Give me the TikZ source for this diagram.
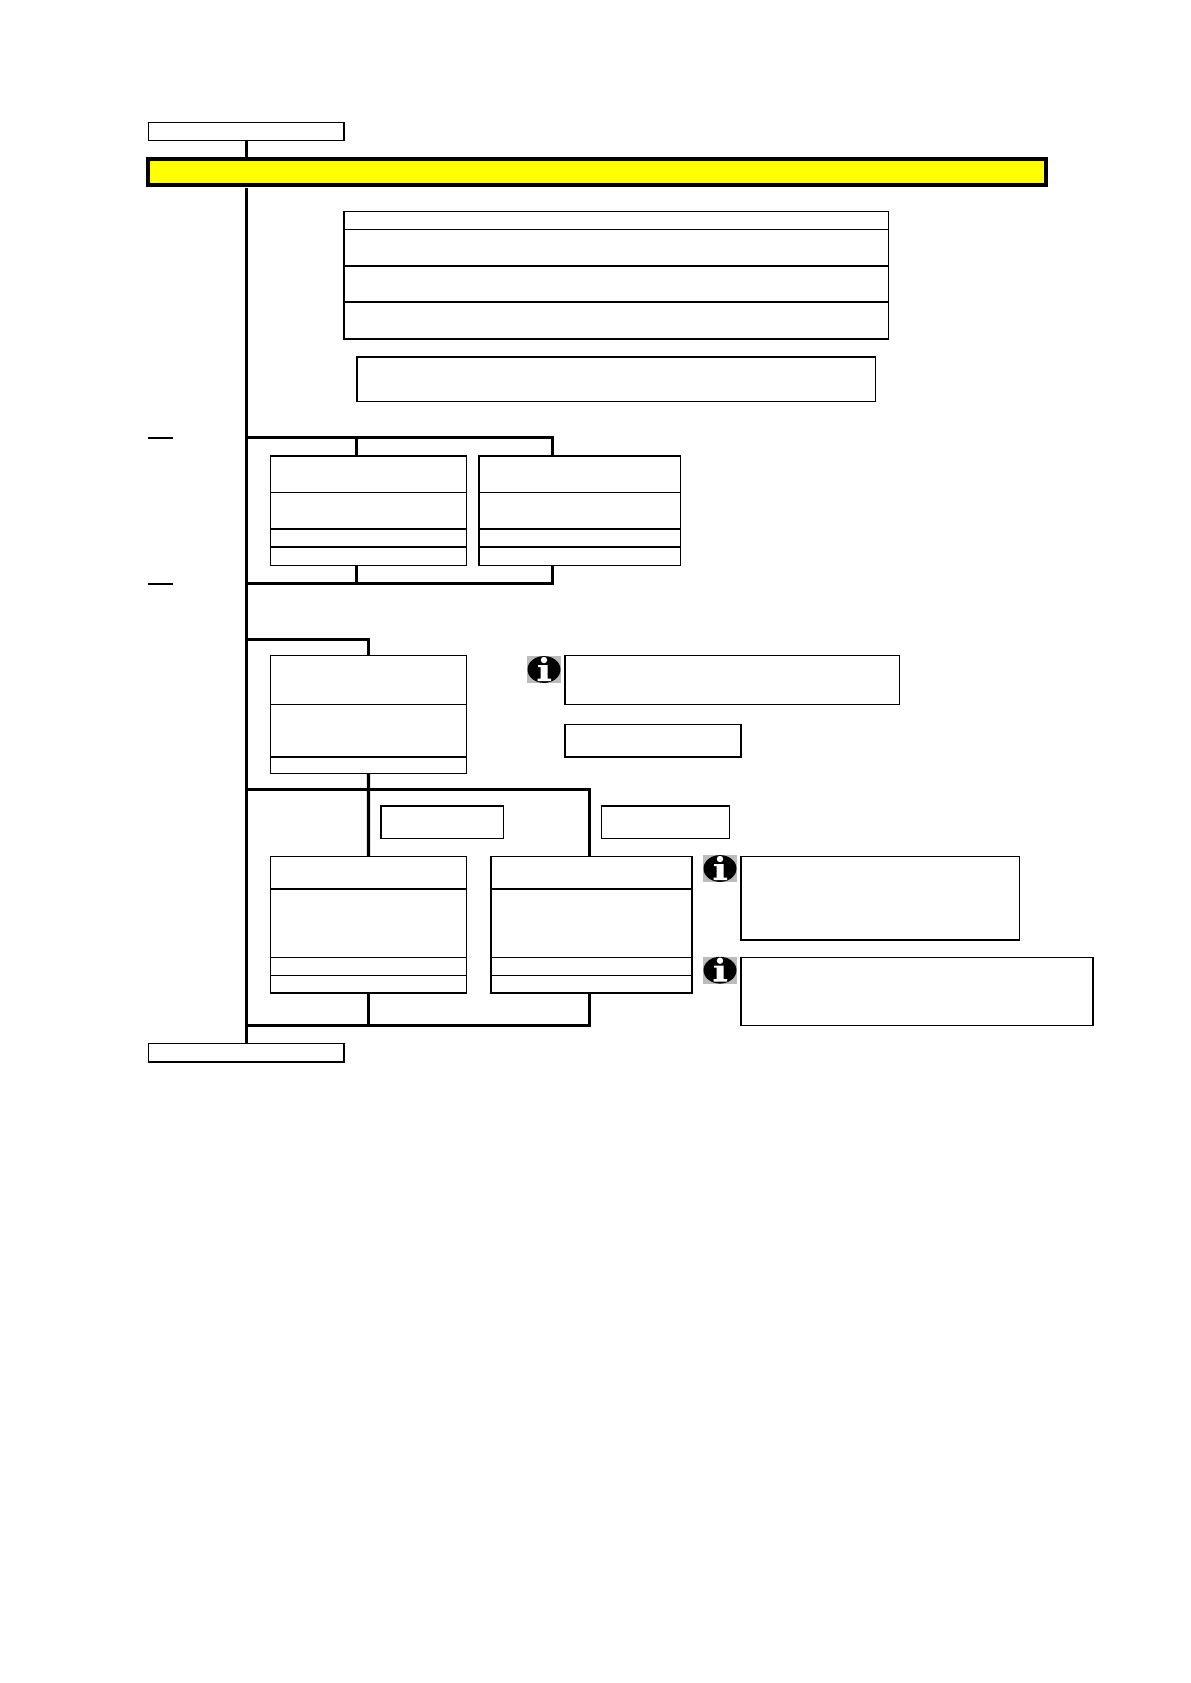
\documentclass[tikz,border=0pt]{standalone}
\definecolor{barfill}{RGB}{255,255,0}
\definecolor{icongrey}{RGB}{188,188,188}
\tikzset{
  panel/.style={draw=black,fill=white,line width=0.55pt,inner sep=0pt,outer sep=0pt,rectangle},
  banner/.style={draw=black,fill=barfill,line width=2.1pt,inner sep=0pt,outer sep=0pt,rectangle},
  heavyedge/.style={draw=black,line width=1pt,line cap=butt,shorten <=-0.27pt,shorten >=-0.27pt},
  link/.style={draw=black,line width=1.6pt,line cap=butt,line join=miter},
  tick/.style={draw=black,line width=0.9pt},
  infoicon/.pic={
    \fill[icongrey] (0,0) rectangle (34,27);
    \fill[black] (17,13.5) ellipse [x radius=16.5,y radius=13.4];
    \fill[white] (17,4) circle [radius=3.2];
    \fill[white] (11,9) -- (20.5,9) -- (20.5,22.5) -- (24,22.5) -- (24,25) -- (10.5,25) -- (10.5,22.5) -- (13.5,22.5) -- (13.5,11) -- (11,11) -- cycle;
  },
}
% [style] name x1 x2 y1 y2
\newcommand\placebox[6][panel]{%
  \node[#1,minimum width={(#4-#3)*0.5pt},minimum height={(#6-#5)*0.5pt}] (#2) at ({(#3+#4)/2},{(#5+#6)/2}) {};}
\newcommand\hvy[3]{\draw[heavyedge] (#1.#2) -- (#1.#3);}
\begin{document}
\begin{tikzpicture}[x=0.5pt,y=-0.5pt]
\fill[white] (0,0) rectangle (1190,1683);
\useasboundingbox (0,0) rectangle (1190,1683);

% margin ticks
\coordinate (tickA1) at (148,437.7); \coordinate (tickA2) at (173,437.7);
\coordinate (tickB1) at (148,583.7); \coordinate (tickB2) at (173,583.7);
\draw[tick] (tickA1) -- (tickA2);
\draw[tick] (tickB1) -- (tickB2);

% start, banner, end
\placebox{startbox}{148.5}{344.2}{122.3}{140.8}
\placebox[banner]{bar}{148.2}{1045.6}{159.3}{184.7}
\placebox{endbox}{148.5}{344.2}{1043.4}{1062.2}

% coordinates of the trunk
\coordinate (trunkTop) at (246.7,188.3);
\coordinate (trunkEnd) at (246.7,1043.4);
\coordinate (junA) at (246.7,437.3);
\coordinate (junB) at (246.7,583.3);
\coordinate (junC) at (246.7,639.7);
\coordinate (junD) at (246.7,789.3);
\coordinate (junE) at (246.7,1025.3);

% connectors first, boxes on top of them
\draw[link] (246.7,141) -- (246.7,157.5);
\draw[link] (trunkTop) -- (trunkEnd);

% top table
\placebox{ta}{344.2}{888.4}{211.7}{229.3}
\placebox{tb}{344.2}{888.4}{229.3}{265.5}
\placebox{tc}{344.2}{888.4}{265.5}{302}
\placebox{td}{344.2}{888.4}{302}{339}
\hvy{tb}{south west}{south east}
\hvy{td}{south west}{south east}
\draw[heavyedge] (ta.north west) -- (td.south west);
\placebox{note}{357}{875.8}{357}{401.3}
\hvy{note}{north west}{north east}

% second section
\placebox{la}{270.7}{466.3}{455.7}{492.3}
\placebox{lb}{270.7}{466.3}{492.3}{528.7}
\placebox{lc}{270.7}{466.3}{528.7}{547}
\placebox{ld}{270.7}{466.3}{547}{565.3}
\hvy{la}{north west}{north east}
\hvy{lb}{south west}{south east}
\placebox{ra}{479.4}{680.4}{455.7}{492.3}
\placebox{rb}{479.4}{680.4}{492.3}{528.7}
\placebox{rc}{479.4}{680.4}{528.7}{547}
\placebox{rd}{479.4}{680.4}{547}{565.3}
\hvy{ra}{north west}{north east}
\hvy{rb}{south west}{south east}
\draw[heavyedge] (ra.north west) -- (rd.south west);
\coordinate (dropL) at (356.7,437.3);
\coordinate (dropR) at (552.6,437.3);
\coordinate (riseL) at (356.7,583.3);
\coordinate (riseR) at (552.6,583.3);
\draw[link] (junA) -- (dropR) -- (dropR |- ra.north);
\draw[link] (dropL) -- (dropL |- la.north);
\draw[link] (junB) -- (riseR) -- (riseR |- rd.south);
\draw[link] (riseL) -- (riseL |- ld.south);

% third section
\placebox{ca}{270.7}{466.3}{655.3}{704.3}
\placebox{cb}{270.7}{466.3}{704.3}{757}
\placebox{cc}{270.7}{466.3}{757}{773.3}
\hvy{cb}{south west}{south east}
\coordinate (dropC) at (368.7,639.7);
\draw[link] (junC) -- (dropC) -- (dropC |- ca.north);

\pic at (527,656) {infoicon};
\placebox{infoA}{565}{899.8}{655.3}{704.3}
\placebox{smallA}{565}{741.2}{724.7}{757}
\hvy{smallA}{north east}{south east}
\hvy{smallA}{south west}{south east}

\placebox{smallB}{380.7}{503.6}{806}{838.3}
\hvy{smallB}{north west}{north east}
\hvy{smallB}{north west}{south west}
\placebox{smallC}{601.8}{729.3}{806}{838.3}
\hvy{smallC}{north west}{north east}

% fourth section
\placebox{pa}{270.5}{466.3}{856.3}{888.7}
\placebox{pb}{270.5}{466.3}{888.7}{957.3}
\placebox{pc}{270.5}{466.3}{957.3}{975.3}
\placebox{pd}{270.5}{466.3}{975.3}{992.7}
\hvy{pa}{south west}{south east}
\hvy{pd}{south west}{south east}
\placebox{qa}{491}{692.2}{856.3}{888.7}
\placebox{qb}{491}{692.2}{888.7}{957.3}
\placebox{qc}{491}{692.2}{957.3}{975.3}
\placebox{qd}{491}{692.2}{975.3}{992.7}
\hvy{qa}{south west}{south east}
\hvy{qd}{south west}{south east}
\draw[heavyedge] (qa.north west) -- (qd.south west);
\draw[heavyedge] (qa.north east) -- (qd.south east);

\coordinate (forkL) at (368.7,789.3);
\coordinate (forkR) at (589.3,789.3);
\coordinate (mergeL) at (368.7,1025.3);
\coordinate (mergeR) at (589.3,1025.3);
\draw[link] (junD) -- (forkR) -- (forkR |- qa.north);
\draw[link] (cc.south) -- (pa.north);
\draw[link] (junE) -- (mergeR) -- (mergeR |- qd.south);
\draw[link] (mergeL) -- (mergeL |- pd.south);

\pic at (703,855) {infoicon};
\placebox{infoB}{741.2}{1019.8}{856.3}{940}
\hvy{infoB}{north west}{south west}
\pic at (703,956.7) {infoicon};
\placebox{infoC}{741.2}{1093.2}{957.3}{1025.3}
\hvy{infoC}{north west}{south west}
\hvy{infoC}{north east}{south east}

% end box heavier sides
\hvy{startbox}{north east}{south east}
\hvy{endbox}{north east}{south east}
\hvy{endbox}{south west}{south east}
\end{tikzpicture}
\end{document}
